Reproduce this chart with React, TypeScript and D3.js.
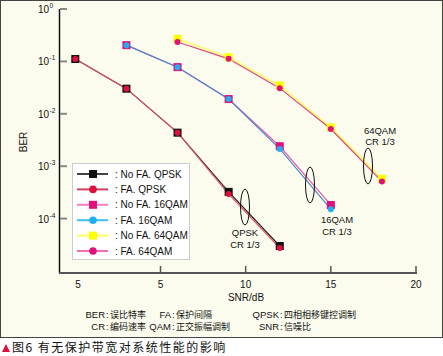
import React from "react";
import * as d3 from "d3";

const snrQPSK = [0, 3, 6, 9, 12];
const snr16 = [3, 6, 9, 12, 15];
const snr64 = [6, 9, 12, 15, 18];
const berNoFaQPSK = [0.111, 0.0302, 0.00437, 3.24e-4, 3.0e-5];
const berFaQPSK = [0.111, 0.0302, 0.00437, 2.95e-4, 2.75e-5];
const berNoFa16 = [0.204, 0.0776, 0.0191, 0.0024, 1.82e-4];
const berFa16 = [0.204, 0.0776, 0.0191, 0.00214, 1.51e-4];
const berNoFa64 = [0.269, 0.12, 0.0347, 0.0055, 5.75e-4];
const berFa64 = [0.234, 0.112, 0.0309, 0.00513, 5.13e-4];
const xTickValues = [0, 5, 10, 15, 20];
const xTickLabels = ["5", "5", "10", "15", "20"];
const yTickValues = [1, 1e-1, 1e-2, 1e-3, 1e-4];
const yTickExps = ["0", "-1", "-2", "-3", "-4"];
const legendLabels = [": No FA. QPSK", ": FA. QPSK", ": No FA. 16QAM", ": FA. 16QAM", ": No FA. 64QAM", ": FA. 64QAM"];
const glossAbbr = [["BER", "FA", "QPSK"], ["CR", "QAM", "SNR"]];
const glossText = [["误比特率", "保护间隔", "四相相移键控调制"], ["编码速率", "正交振幅调制", "信噪比"]];

type S = { name: string; x: number[]; y: number[]; marker: "sq" | "ci"; fill: string; stroke: string; line: string; legLine: string };
const series: S[] = [
  { name: "nofa-qpsk", x: snrQPSK, y: berNoFaQPSK, marker: "sq", fill: "#e0103c", stroke: "#111", line: "#222", legLine: "#444" },
  { name: "fa-qpsk", x: snrQPSK, y: berFaQPSK, marker: "ci", fill: "#e0103c", stroke: "#e0103c", line: "#e05a6a", legLine: "#d04060" },
  { name: "nofa-16", x: snr16, y: berNoFa16, marker: "sq", fill: "#e0107c", stroke: "#e0107c", line: "#e060a8", legLine: "#f080c0" },
  { name: "fa-16", x: snr16, y: berFa16, marker: "ci", fill: "#20b0f0", stroke: "#20b0f0", line: "#4a88d0", legLine: "#40c0f0" },
  { name: "nofa-64", x: snr64, y: berNoFa64, marker: "sq", fill: "#ffff00", stroke: "#ffff00", line: "#ffff40", legLine: "#ffff60" },
  { name: "fa-64", x: snr64, y: berFa64, marker: "ci", fill: "#e0107c", stroke: "#e0107c", line: "#e04878", legLine: "#f070b0" },
];

const xScale = d3.scaleLinear().domain([-0.9, 20]).range([60, 416]);
const yScale = d3.scaleLog().domain([1e-5, 1]).range([271, 9]);

const font = "'Liberation Sans', Arial, sans-serif";
const cjk = "'Noto Sans CJK SC', sans-serif";

function Marker({ s, cx, cy }: { s: S; cx: number; cy: number }) {
  if (s.marker === "sq") {
    return <rect x={cx - 3.5} y={cy - 3.5} width={7} height={7} fill={s.name === "nofa-qpsk" ? "#111" : s.fill} stroke={s.stroke} strokeWidth={1} />;
  }
  return <circle cx={cx} cy={cy} r={3} fill={s.fill} />;
}

export default function App() {
  const line = (s: S) =>
    d3.line<number>().x((_, i) => xScale(s.x[i])).y((v) => yScale(v))(s.y) || "";
  const drawOrder = [4, 5, 2, 3, 0, 1];
  const colonX = [106, 172, 280];
  const rowY = [318, 330];
  return (
    <svg width={443} height={356} style={{ position: "absolute", left: 0, top: 0 }} fontFamily={font}>
      <rect x={0} y={0} width={443} height={356} fill="#ffffff" />
      <rect x={0.5} y={0.5} width={442} height={337} fill="#fcfcee" stroke="#444" strokeWidth={1} />
      {/* y axis */}
      <line x1={59.5} x2={59.5} y1={9} y2={273} stroke="#111" strokeWidth={1.5} />
      {yTickValues.map((v, i) => (
        <g key={i}>
          <line x1={60} x2={67} y1={yScale(v)} y2={yScale(v)} stroke="#888" strokeWidth={2} />
          <text x={49} y={yScale(v) + 4} textAnchor="end" fontSize={10} fill="#111">10</text>
          <text x={49.5} y={yScale(v) - 1} fontSize={6.5} fill="#111">{yTickExps[i]}</text>
        </g>
      ))}
      {/* x axis */}
      <line x1={59} x2={417} y1={273} y2={273} stroke="#555" strokeWidth={2} />
      {xTickValues.map((v, i) => (
        <g key={i}>
          {v > 0 && <line x1={xScale(v)} x2={xScale(v)} y1={266} y2={273} stroke="#555" strokeWidth={1.5} />}
          <text x={v === 0 ? 78 : xScale(v)} y={288} textAnchor="middle" fontSize={10} fill="#111">{xTickLabels[i]}</text>
        </g>
      ))}
      <text x={246} y={301} textAnchor="middle" fontSize={10} fill="#111">SNR/dB</text>
      <text transform="translate(27,142) rotate(-90)" textAnchor="middle" fontSize={10} fill="#111">BER</text>
      {/* lines */}
      {drawOrder.map((k) => (
        <path key={series[k].name} d={line(series[k])} fill="none" stroke={series[k].line} strokeWidth={1.2} />
      ))}
      {drawOrder.map((k) =>
        series[k].y.map((v, i) => <Marker key={series[k].name + i} s={series[k]} cx={xScale(series[k].x[i])} cy={yScale(v)} />)
      )}
      {/* ellipses and annotations */}
      <ellipse cx={245} cy={207} rx={4.5} ry={18} fill="none" stroke="#111" strokeWidth={1} />
      <text x={245} y={236} textAnchor="middle" fontSize={9.5} fill="#111">QPSK</text>
      <text x={245} y={248} textAnchor="middle" fontSize={9.5} fill="#111">CR 1/3</text>
      <ellipse cx={310} cy={185} rx={4.5} ry={18} fill="none" stroke="#111" strokeWidth={1} />
      <text x={337} y={223} textAnchor="middle" fontSize={9.5} fill="#111">16QAM</text>
      <text x={337} y={235} textAnchor="middle" fontSize={9.5} fill="#111">CR 1/3</text>
      <ellipse cx={368} cy={166} rx={4.5} ry={18} fill="none" stroke="#111" strokeWidth={1} />
      <text x={380} y={134} textAnchor="middle" fontSize={9.5} fill="#111">64QAM</text>
      <text x={380} y={145} textAnchor="middle" fontSize={9.5} fill="#111">CR 1/3</text>
      {/* legend */}
      <rect x={72.5} y={163.5} width={117} height={96} fill="#ffffff" stroke="#ccc" strokeWidth={1} />
      {series.map((s, i) => {
        const y = 174 + i * 15.4;
        return (
          <g key={s.name}>
            <line x1={77} x2={108} y1={y} y2={y} stroke={s.legLine} strokeWidth={2} />
            {s.marker === "sq" ? (
              <rect x={89} y={y - 4} width={8} height={8} fill={s.name === "nofa-qpsk" ? "#111" : s.fill} />
            ) : (
              <circle cx={93} cy={y} r={3.8} fill={s.fill} />
            )}
            <text x={115} y={y + 3.5} fontSize={10} fill="#111">{legendLabels[i]}</text>
          </g>
        );
      })}
      {/* glossary */}
      {glossAbbr.map((row, r) =>
        row.map((ab, c) => (
          <g key={ab} fill="#111">
            <text x={colonX[c] - 1} y={rowY[r]} textAnchor="end" fontSize={9.5}>{ab}</text>
            <text x={colonX[c]} y={rowY[r]} fontSize={9.5}>:</text>
            <text x={colonX[c] + 4} y={rowY[r]} fontSize={9} fontFamily={cjk}>{glossText[r][c]}</text>
          </g>
        ))
      )}
      <path d="M2,352 L6,344 L10,352 Z" fill="#e0103c" />
      <text x={12} y={352} fontSize={12} letterSpacing={1.5} fontFamily={cjk} fill="#111">图6 有无保护带宽对系统性能的影响</text>
    </svg>
  );
}
